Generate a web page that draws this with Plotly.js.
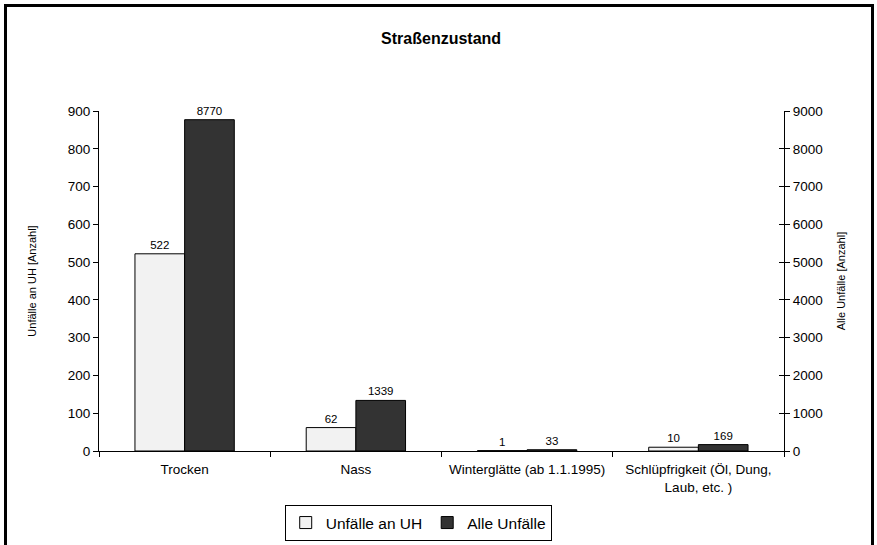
<!DOCTYPE html>
<html>
<head>
<meta charset="utf-8">
<script src="https://cdn.plot.ly/plotly-3.0.1.min.js"></script>
<style>
html,body{margin:0;padding:0;background:#fff;}
#wrap{position:relative;width:877px;height:545px;}
#chart{position:absolute;left:0;top:0;width:877px;height:545px;}
#frame{position:absolute;left:4px;top:4px;width:870px;height:560px;border:3px solid #000;box-sizing:border-box;pointer-events:none;}
</style>
</head>
<body>
<div id="wrap"><div id="chart"></div><div id="frame"></div></div>
<script>
const categories = ["Trocken", "Nass", "Winterglätte (ab 1.1.1995)", "Schlüpfrigkeit (Öl, Dung,<br>Laub, etc. )"];
const seriesNames = ["Unfälle an UH", "Alle Unfälle"];
const unfaelleUH = [522, 62, 1, 10];
const alleUnfaelle = [8770, 1339, 33, 169];
const leftTicks = [0, 100, 200, 300, 400, 500, 600, 700, 800, 900];
const rightTicks = [0, 1000, 2000, 3000, 4000, 5000, 6000, 7000, 8000, 9000];

const FONT = "Liberation Sans, Arial, sans-serif";

const traces = [
  {
    type: "bar", name: seriesNames[0], x: categories, y: unfaelleUH,
    yaxis: "y", offsetgroup: "a",
    marker: {color: "#f2f2f2", line: {color: "#000", width: 1}},
    text: unfaelleUH.map(String), textposition: "outside",
    textfont: {size: 11.5, color: "#000", family: FONT},
    cliponaxis: false, hoverinfo: "skip"
  },
  {
    type: "bar", name: seriesNames[1], x: categories, y: alleUnfaelle,
    yaxis: "y2", offsetgroup: "b",
    marker: {color: "#333333", line: {color: "#000", width: 1}},
    text: alleUnfaelle.map(String), textposition: "outside",
    textfont: {size: 11.5, color: "#000", family: FONT},
    cliponaxis: false, hoverinfo: "skip"
  },
  {
    type: "scatter", x: categories, y: alleUnfaelle, yaxis: "y3",
    mode: "none", showlegend: false, hoverinfo: "skip"
  }
];

const layout = {
  width: 877, height: 545,
  margin: {l: 99, r: 93, t: 111, b: 94, autoexpand: false},
  paper_bgcolor: "#fff", plot_bgcolor: "#fff",
  font: {family: FONT, size: 13, color: "#000"},
  title: {text: "<b>Straßenzustand</b>", font: {size: 16, family: FONT, color: "#000"},
          x: 0.503, xanchor: "center", y: 0.93, yanchor: "middle", yref: "container"},
  barmode: "group", bargap: 0.42, bargroupgap: 0,
  showlegend: true,
  legend: {orientation: "h", x: 0.466, xanchor: "center", xref: "paper",
           y: 0.0404, yanchor: "middle", yref: "container",
           bordercolor: "#000", borderwidth: 1, font: {size: 15.5, family: FONT},
           itemwidth: 30, tracegroupgap: 0},
  xaxis: {
    type: "category", showline: true, linecolor: "#000", linewidth: 1,
    ticks: "outside", tickson: "boundaries", ticklen: 5, tickcolor: "#000",
    tickfont: {size: 13.5}, ticklabelstandoff: 6,
    showgrid: false, zeroline: false, fixedrange: true
  },
  yaxis: {
    range: [0, 900], tickvals: leftTicks, ticktext: leftTicks.map(String),
    showline: true, linecolor: "#000", linewidth: 1,
    ticks: "outside", ticklen: 5, tickcolor: "#000",
    showgrid: false, zeroline: false,
    title: {text: "Unfälle an UH [Anzahl]", font: {size: 11}, standoff: 28},
    tickfont: {size: 13.5}
  },
  yaxis2: {
    range: [0, 9000], overlaying: "y", side: "right",
    tickvals: rightTicks, ticktext: rightTicks.map(String),
    showline: true, linecolor: "#000", linewidth: 1,
    ticks: "outside", ticklen: 5, tickcolor: "#000",
    showgrid: false, zeroline: false,
    title: {text: "Alle Unfälle [Anzahl]", font: {size: 11}, standoff: 15},
    tickfont: {size: 13.5}
  },
  yaxis3: {
    range: [0, 9000], overlaying: "y", side: "right",
    tickvals: rightTicks, showticklabels: false,
    ticks: "inside", ticklen: 5, tickcolor: "#000",
    showline: false, showgrid: false, zeroline: false
  }
};

Plotly.newPlot("chart", traces, layout, {displayModeBar: false, staticPlot: true});
</script>
</body>
</html>
